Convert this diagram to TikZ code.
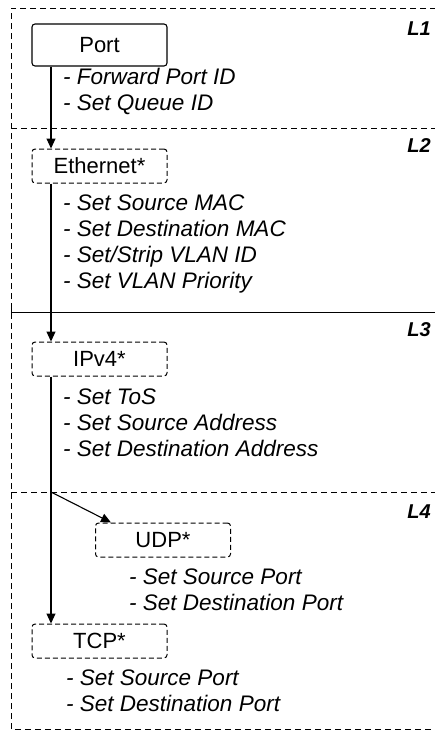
\documentclass[tikz,border=0pt]{standalone}
\usepackage{fontspec}
\setmainfont{Liberation Sans}
\usetikzlibrary{arrows.meta,calc}
\begin{document}
\begin{tikzpicture}[x=1pt,y=-1pt,
  frame/.style={line width=1pt,dash pattern=on 6pt off 4pt},
  sep/.style={line width=1pt,dash pattern=on 6pt off 4pt},
  solidbox/.style={draw,line width=1.1pt,rounded corners=3pt,minimum width=135pt,minimum height=42pt,font=\fontsize{22}{24}\selectfont,inner sep=0pt},
  dashbox/.style={draw,line width=1pt,dash pattern=on 5pt off 3pt,rounded corners=3pt,minimum width=135pt,minimum height=34pt,font=\fontsize{22}{24}\selectfont,inner sep=0pt},
  items/.style={anchor=north west,align=left,inner sep=0pt,font=\fontsize{22.5}{26}\itshape\selectfont},
  layer/.style={anchor=east,inner sep=0pt,font=\fontsize{20}{24}\bfseries\itshape\selectfont},
  flow/.style={line width=1.1pt,-{Triangle[length=10pt,width=9pt]}}
]
\useasboundingbox (0,0) rectangle (435,731);
% frame
\draw[frame] (436,8) -- (11,8) -- (11,729) -- (436,729);
\draw[sep] (11,128) -- (436,128);
\draw[line width=0.9pt] (11,312) -- (436,312);
\draw[line width=0.9pt] (11,306) -- (11,318);
\draw[sep] (11,492) -- (436,492);
% layer labels
\node[layer] (l1) at (431,29) {L1};
\node[layer] (l2) at (431,146) {L2};
\node[layer] (l3) at (431,330) {L3};
\node[layer] (l4) at (431,512) {L4};
% boxes
\node[solidbox] (port) at (99.5,45) {Port};
\node[dashbox] (eth) at (99.5,166) {Ethernet*};
\node[dashbox] (ip) at (99.5,359) {IPv4*};
\node[dashbox] (udp) at (163,540) {UDP*};
\node[dashbox] (tcp) at (99.5,641) {TCP*};
% items
\node[items] (portitems) at (63,68) {- Forward Port ID\\- Set Queue ID};
\node[items] (ethitems) at (63,195) {- Set Source MAC\\- Set Destination MAC\\- Set/Strip VLAN ID\\- Set VLAN Priority};
\node[items] (ipitems) at (63,389) {- Set ToS\\- Set Source Address\\- Set Destination Address};
\node[items] (udpitems) at (129,569) {- Set Source Port\\- Set Destination Port};
\node[items] (tcpitems) at (66,670) {- Set Source Port\\- Set Destination Port};
% connectors
\coordinate (split) at (51,492);
\coordinate (udpin) at ($(udp.north west)+(16,0)$);
\draw[flow] (port.south -| split) -- (eth.north -| split);
\draw[flow] (eth.south -| split) -- (ip.north -| split);
\draw[flow] (ip.south -| split) -- (tcp.north -| split);
\draw[flow] (split) -- (udpin);
\end{tikzpicture}
\end{document}
